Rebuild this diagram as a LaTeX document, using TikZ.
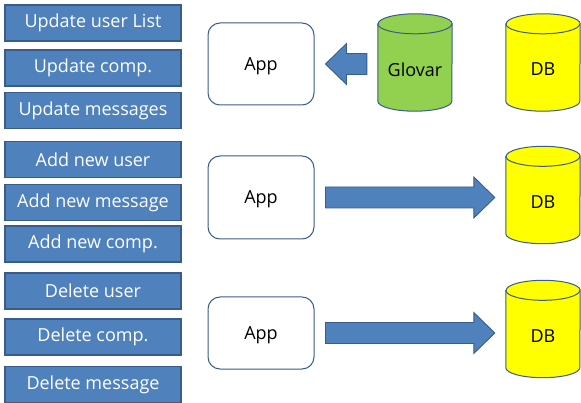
\documentclass[tikz,border=0pt]{standalone}
\usepackage{fontspec}
\setmainfont{Open Sans}
\usetikzlibrary{positioning,calc,backgrounds}

\definecolor{boxblue}{HTML}{4F81BD}
\definecolor{edgeblue}{HTML}{385D8A}
\definecolor{glovargreen}{HTML}{92D050}
\definecolor{dbyellow}{HTML}{FFFF00}

\tikzset{
  taskbox/.style={draw=edgeblue, fill=boxblue, line width=1.1pt, text=white,
    minimum width=176pt, minimum height=36pt, inner sep=0pt,
    font=\fontsize{18}{21}\selectfont},
  appbox/.style={draw=edgeblue, fill=white, line width=1pt, rounded corners=12pt,
    minimum width=106pt, inner sep=0pt, text depth=0pt,
    font=\fontsize{18}{21}\selectfont},
  store/.style={minimum width=74pt, minimum height=97pt, inner sep=0pt},
  storetext/.style={font=\fontsize{18}{21}\selectfont, yshift=-7pt},
  storeline/.style={draw=edgeblue, line width=1pt},
  blockarrow/.style={draw=edgeblue, fill=boxblue, line width=0.9pt}
}

% cylinder drawn round a store node, #2 = fill colour
\newcommand{\drawstore}[2]{%
  \filldraw[storeline, fill=#2] ($(#1.north west)+(0,-10pt)$)
    -- ($(#1.south west)+(0,10pt)$)
    arc[start angle=180, end angle=360, x radius=37pt, y radius=10pt]
    -- ($(#1.north east)+(0,-10pt)$)
    arc[start angle=0, end angle=180, x radius=37pt, y radius=10pt] -- cycle;
  \draw[storeline] ($(#1.north west)+(0,-10pt)$)
    arc[start angle=180, end angle=360, x radius=37pt, y radius=10pt];
}

% fat arrow between two points, #3 = gap at both ends
\newcommand{\blockarrow}[3]{%
  \coordinate (ba-s) at ($(#1)!#3!(#2)$);
  \coordinate (ba-e) at ($(#2)!#3!(#1)$);
  \coordinate (ba-h) at ($(ba-e)!21pt!(ba-s)$);
  \draw[blockarrow] ($(ba-s)!10.5pt!90:(ba-e)$) -- ($(ba-h)!10.5pt!90:(ba-e)$)
    -- ($(ba-h)!20.5pt!90:(ba-e)$) -- (ba-e) -- ($(ba-h)!20.5pt!-90:(ba-e)$)
    -- ($(ba-h)!10.5pt!-90:(ba-e)$) -- ($(ba-s)!10.5pt!-90:(ba-e)$) -- cycle;
}

\begin{document}
\begin{tikzpicture}[x=1pt,y=-1pt]
  \useasboundingbox (0,0) rectangle (581,403);

  % update
  \node (upd1) [taskbox] at (93,23) {Update user List};
  \node (upd2) [taskbox] at (93,68) {Update comp.};
  \node (upd3) [taskbox] at (93,110.5) {Update messages};
  % add
  \node (add1) [taskbox] at (93,159.5) {Add new user};
  \node (add2) [taskbox] at (93,202.5) {Add new message};
  \node (add3) [taskbox] at (93,244) {Add new comp.};
  % delete
  \node (del1) [taskbox] at (93,291) {Delete user};
  \node (del2) [taskbox] at (93,337) {Delete comp.};
  \node (del3) [taskbox] at (93,384.5) {Delete message};

  \node (app1) [appbox, minimum height=82pt] at (261,64) {App};
  \node (app2) [appbox, minimum height=83pt] at (261,197.5) {App};
  \node (app3) [appbox, minimum height=72pt] at (261,333) {App};

  \node (glovar) [store, label={[storetext]center:Glovar}] at (415,62.5) {};
  \node (db1) [store, label={[storetext]center:DB}] at (543,62.5) {};
  \node (db2) [store, label={[storetext]center:DB}] at (543,195) {};
  \node (db3) [store, label={[storetext]center:DB}] at (543,329) {};

  \begin{scope}[on background layer]
    \drawstore{glovar}{glovargreen}
    \drawstore{db1}{dbyellow}
    \drawstore{db2}{dbyellow}
    \drawstore{db3}{dbyellow}
  \end{scope}

  \blockarrow{glovar.west |- app1.east}{app1.east}{11pt}
  \blockarrow{app2.east}{app2.east -| db2.west}{11pt}
  \blockarrow{app3.east}{app3.east -| db3.west}{11pt}
\end{tikzpicture}
\end{document}
